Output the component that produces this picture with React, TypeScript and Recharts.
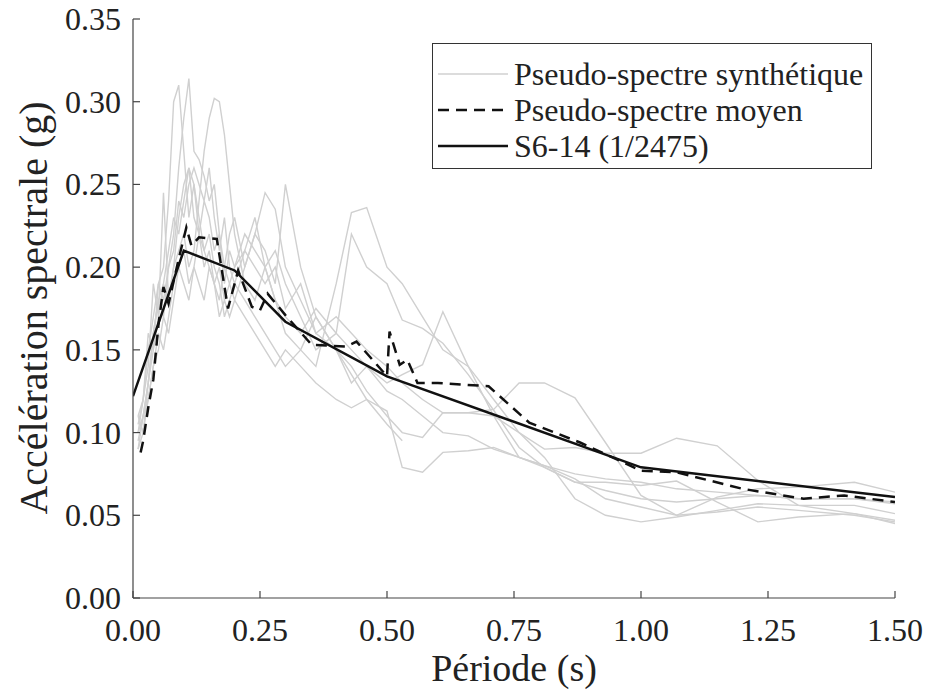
import React from 'react'
import { LineChart, Line, XAxis, YAxis, Legend } from 'recharts'

// périodes communes des pseudo-spectres synthétiques (s)
const periodes = [
  0.01, 0.02, 0.03, 0.04, 0.05, 0.06, 0.07, 0.08, 0.09, 0.1,
  0.11, 0.12, 0.13, 0.14, 0.15, 0.16, 0.17, 0.18, 0.19, 0.2,
  0.22, 0.24, 0.26, 0.28, 0.3, 0.33, 0.36, 0.4, 0.43, 0.46,
  0.5, 0.53, 0.57, 0.61, 0.66, 0.71, 0.76, 0.81, 0.87, 0.93,
  1.0, 1.07, 1.15, 1.23, 1.31, 1.42, 1.5,
]

const synth1 = [
  0.105, 0.12, 0.15, 0.17, 0.19, 0.2, 0.24, 0.3, 0.31, 0.27,
  0.23, 0.25, 0.22, 0.24, 0.23, 0.21, 0.22, 0.19, 0.21, 0.2,
  0.21, 0.2, 0.19, 0.2, 0.175, 0.19, 0.16, 0.17, 0.16, 0.15,
  0.14, 0.13, 0.12, 0.112, 0.112, 0.114, 0.13, 0.13, 0.121, 0.094,
  0.062, 0.05, 0.061, 0.066, 0.067, 0.07, 0.064,
]
const synth2 = [
  0.095, 0.11, 0.13, 0.16, 0.18, 0.17, 0.2, 0.22, 0.26, 0.29,
  0.314, 0.27, 0.265, 0.255, 0.24, 0.25, 0.22, 0.2, 0.19, 0.18,
  0.2, 0.22, 0.245, 0.235, 0.2, 0.18, 0.16, 0.15, 0.14, 0.125,
  0.11, 0.1, 0.097, 0.112, 0.112, 0.11, 0.1, 0.09, 0.091, 0.0875,
  0.0875, 0.0966, 0.092, 0.071, 0.056, 0.051, 0.047,
]
const synth3 = [
  0.11, 0.1, 0.13, 0.15, 0.17, 0.19, 0.18, 0.2, 0.21, 0.22,
  0.2, 0.21, 0.24, 0.27, 0.29, 0.302, 0.3, 0.28, 0.25, 0.22,
  0.19, 0.18, 0.2, 0.21, 0.19, 0.17, 0.15, 0.16, 0.22, 0.2,
  0.19, 0.168, 0.163, 0.154, 0.135, 0.1135, 0.091, 0.079, 0.07, 0.07,
  0.068, 0.0707, 0.058, 0.046, 0.049, 0.051, 0.045,
]
const synth4 = [
  0.09, 0.11, 0.12, 0.14, 0.16, 0.15, 0.17, 0.19, 0.2, 0.21,
  0.19, 0.2, 0.22, 0.21, 0.2, 0.19, 0.2, 0.18, 0.19, 0.2,
  0.22, 0.21, 0.2, 0.18, 0.16, 0.15, 0.14, 0.19, 0.233, 0.236,
  0.2, 0.19, 0.17, 0.15, 0.14, 0.12, 0.1, 0.085, 0.06, 0.05,
  0.046, 0.049, 0.053, 0.057, 0.056, 0.056, 0.051,
]
// celui-ci s'arrête à 0.53 s
const synth5 = [
  0.1, 0.12, 0.14, 0.19, 0.17, 0.245, 0.18, 0.2, 0.23, 0.25,
  0.26, 0.23, 0.22, 0.2, 0.21, 0.19, 0.18, 0.2, 0.22, 0.23,
  0.2, 0.22, 0.21, 0.19, 0.25, 0.2, 0.17, 0.15, 0.135, 0.12,
  0.105, 0.095,
]
const synth6 = [
  0.09, 0.1, 0.12, 0.14, 0.15, 0.17, 0.16, 0.18, 0.2, 0.19,
  0.18, 0.2, 0.19, 0.18, 0.2, 0.19, 0.17, 0.18, 0.17, 0.18,
  0.17, 0.16, 0.15, 0.14, 0.15, 0.14, 0.13, 0.12, 0.115, 0.12,
  0.113, 0.079, 0.076, 0.088, 0.089, 0.091, 0.085, 0.079, 0.07, 0.065,
  0.06, 0.058, 0.06, 0.062, 0.06, 0.06, 0.057,
]
const synth7 = [
  0.1, 0.11, 0.13, 0.16, 0.18, 0.19, 0.21, 0.23, 0.22, 0.24,
  0.26, 0.25, 0.23, 0.21, 0.22, 0.2, 0.19, 0.17, 0.18, 0.19,
  0.18, 0.17, 0.16, 0.15, 0.14, 0.15, 0.17, 0.15, 0.13, 0.14,
  0.13, 0.135, 0.141, 0.173, 0.14, 0.11, 0.085, 0.08, 0.072, 0.06,
  0.055, 0.05, 0.052, 0.055, 0.053, 0.05, 0.046,
]
const synth8 = [
  0.11, 0.12, 0.16, 0.15, 0.19, 0.18, 0.2, 0.21, 0.24, 0.23,
  0.25, 0.26, 0.25, 0.24, 0.26, 0.23, 0.21, 0.23, 0.2, 0.19,
  0.21, 0.23, 0.2, 0.18, 0.17, 0.16, 0.175, 0.16, 0.15, 0.14,
  0.125, 0.12, 0.11, 0.1, 0.098, 0.09, 0.085, 0.08, 0.075, 0.072,
  0.07, 0.066, 0.064, 0.062, 0.06, 0.06, 0.058,
]

// pseudo-spectre moyen
const moyenT = [
  0.015, 0.02, 0.03, 0.04, 0.05, 0.06, 0.07, 0.09, 0.105, 0.115,
  0.13, 0.165, 0.187, 0.207, 0.234, 0.25, 0.265, 0.3, 0.352, 0.42,
  0.44, 0.5, 0.505, 0.525, 0.54, 0.56, 0.6, 0.7, 0.78, 0.88,
  1.0, 1.07, 1.2, 1.32, 1.4, 1.5,
]
const moyenSa = [
  0.088, 0.095, 0.115, 0.132, 0.165, 0.188, 0.178, 0.205, 0.224, 0.213,
  0.218, 0.217, 0.175, 0.198, 0.176, 0.174, 0.184, 0.171, 0.153, 0.152,
  0.155, 0.134, 0.161, 0.141, 0.144, 0.13, 0.13, 0.128, 0.106, 0.094,
  0.077, 0.076, 0.066, 0.06, 0.062, 0.058,
]

// spectre S6-14 (1/2475)
const s614T = [0, 0.1, 0.2, 0.3, 0.5, 1.0, 1.5]
const s614Sa = [0.122, 0.21, 0.198, 0.167, 0.134, 0.079, 0.061]

const xTicks = [0, 0.25, 0.5, 0.75, 1.0, 1.25, 1.5]
const yTicks = [0, 0.05, 0.1, 0.15, 0.2, 0.25, 0.3, 0.35]

const synthSeries = [synth1, synth2, synth3, synth4, synth5, synth6, synth7, synth8]
const synthData = synthSeries.map((vals) =>
  vals.map((sa, i) => ({ t: periodes[i], sa }))
)
const moyenData = moyenT.map((t, i) => ({ t, sa: moyenSa[i] }))
const s614Data = s614T.map((t, i) => ({ t, sa: s614Sa[i] }))

const FONT = 'Liberation Serif, DejaVu Serif, serif'
const AXIS = '#444'
const GRIS = '#d0d0d0'
const TICK = 7

const BottomTick = ({ x, y, payload }: any) => (
  <g>
    <line x1={x} x2={x} y1={y} y2={y - TICK} stroke={AXIS} strokeWidth={1.2} />
    <text x={x} y={y + 32} textAnchor="middle" dominantBaseline="central"
      style={{ fontFamily: FONT }} fontSize={32} fill="#222">
      {Number(payload.value).toFixed(2)}
    </text>
  </g>
)
const TopTick = ({ x, y }: any) => (
  <line x1={x} x2={x} y1={y} y2={y + TICK} stroke={AXIS} strokeWidth={1.2} />
)
const LeftTick = ({ x, y, payload }: any) => (
  <g>
    <line x1={x} x2={x + TICK} y1={y} y2={y} stroke={AXIS} strokeWidth={1.2} />
    <text x={x - 12} y={y} textAnchor="end" dominantBaseline="central"
      style={{ fontFamily: FONT }} fontSize={32} fill="#222">
      {Number(payload.value).toFixed(2)}
    </text>
  </g>
)
const RightTick = ({ x, y }: any) => (
  <line x1={x} x2={x - TICK} y1={y} y2={y} stroke={AXIS} strokeWidth={1.2} />
)

const XLabel = () => (
  <text x={514} y={668} textAnchor="middle" dominantBaseline="central"
    style={{ fontFamily: FONT }} fontSize={38} fill="#222">
    Période (s)
  </text>
)
const YLabel = () => (
  <text x={33} y={308} textAnchor="middle" dominantBaseline="central"
    transform="rotate(-90, 33, 308)" style={{ fontFamily: FONT }} fontSize={40} fill="#222">
    Accélération spectrale (g)
  </text>
)

const legendItems = [
  { label: 'Pseudo-spectre synthétique', color: GRIS, width: 1.4, dash: undefined },
  { label: 'Pseudo-spectre moyen', color: '#111', width: 2.5, dash: '11 7' },
  { label: 'S6-14 (1/2475)', color: '#111', width: 2.5, dash: undefined },
]

const LegendBox = () => (
  <div style={{
    border: '1px solid #333', background: '#fff', padding: '12px 8px 4px 5px',
    fontFamily: FONT, fontSize: 32, color: '#222', boxSizing: 'border-box', width: 440,
  }}>
    {legendItems.map((it) => (
      <div key={it.label} style={{ display: 'flex', alignItems: 'center', height: 36 }}>
        <svg width={70} height={10} style={{ marginRight: 6, flex: 'none' }}>
          <line x1={0} x2={70} y1={5} y2={5} stroke={it.color}
            strokeWidth={it.width} strokeDasharray={it.dash} />
        </svg>
        <span style={{ whiteSpace: 'nowrap', lineHeight: '36px' }}>{it.label}</span>
      </div>
    ))}
  </div>
)

export default function App() {
  return (
    <div style={{ position: 'absolute', left: 0, top: 0, width: 940, height: 697, background: '#fff' }}>
      <LineChart width={940} height={697} margin={{ top: 19, right: 45, bottom: 0, left: 0 }}>
        <XAxis dataKey="t" type="number" domain={[0, 1.5]} ticks={xTicks}
          allowDataOverflow height={99} tickSize={0} tickMargin={0} tickLine={false}
          axisLine={{ stroke: AXIS, strokeWidth: 1.2 }} tick={<BottomTick />}
          label={<XLabel />} />
        <XAxis xAxisId="top" dataKey="t" type="number" orientation="top" domain={[0, 1.5]}
          ticks={xTicks} height={0} tickSize={0} tickMargin={0} tickLine={false}
          axisLine={{ stroke: AXIS, strokeWidth: 1.2 }} tick={<TopTick />} />
        <YAxis type="number" domain={[0, 0.35]} ticks={yTicks} allowDataOverflow
          width={133} tickSize={0} tickMargin={0} tickLine={false}
          axisLine={{ stroke: AXIS, strokeWidth: 1.2 }} tick={<LeftTick />}
          label={<YLabel />} />
        <YAxis yAxisId="right" type="number" orientation="right" domain={[0, 0.35]}
          ticks={yTicks} width={0} tickSize={0} tickMargin={0} tickLine={false}
          axisLine={{ stroke: AXIS, strokeWidth: 1.2 }} tick={<RightTick />} />
        {synthData.map((d, i) => (
          <Line key={i} data={d} dataKey="sa" type="linear" stroke={GRIS}
            strokeWidth={1.4} dot={false} isAnimationActive={false} legendType="none" />
        ))}
        <Line data={moyenData} dataKey="sa" type="linear" stroke="#111" strokeWidth={2.5}
          strokeDasharray="11 7" dot={false} isAnimationActive={false} />
        <Line data={s614Data} dataKey="sa" type="linear" stroke="#111" strokeWidth={2.5}
          dot={false} isAnimationActive={false} />
        <Legend layout="vertical" align="center" verticalAlign="middle"
          wrapperStyle={{ left: 432, top: 43, width: 440 }} content={<LegendBox />} />
      </LineChart>
    </div>
  )
}
